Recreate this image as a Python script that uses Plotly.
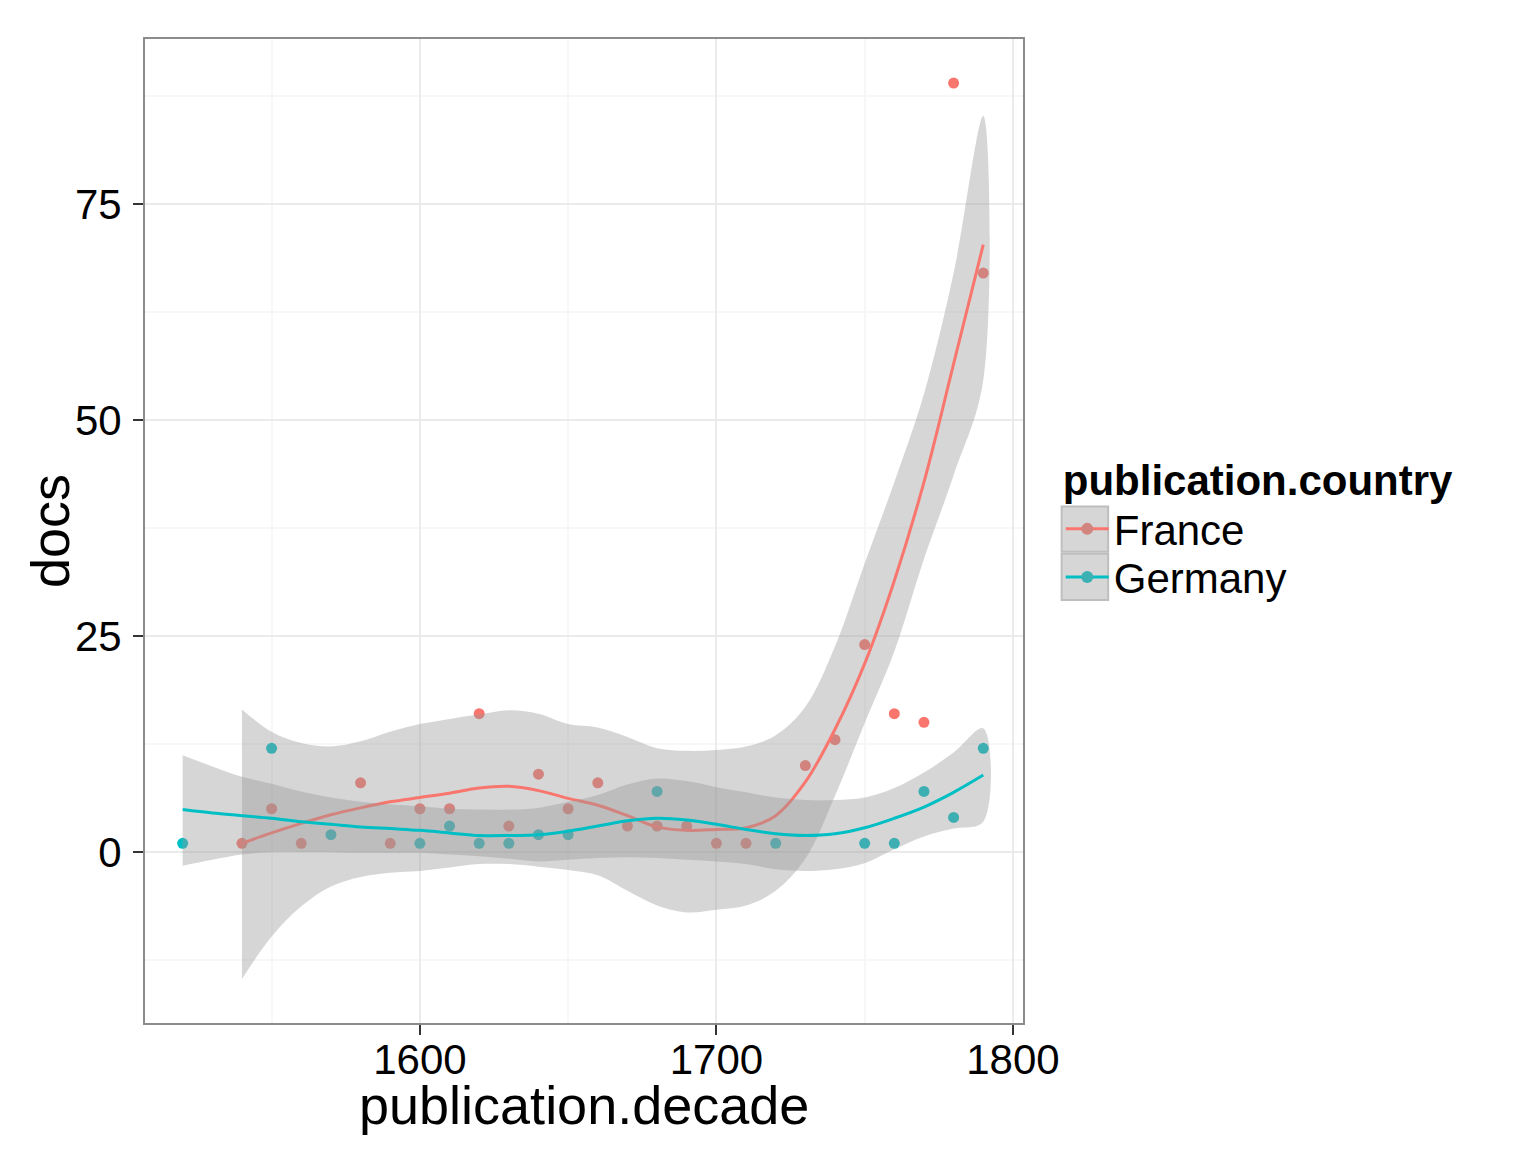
import plotly.graph_objects as go

# scatter points (docs per decade)
france_decade = [1540, 1550, 1560, 1580, 1590, 1600, 1610, 1620, 1630, 1640, 1650, 1660,
                 1670, 1680, 1690, 1700, 1710, 1730, 1740, 1750, 1760, 1770, 1780, 1790]
france_docs = [1, 5, 1, 8, 1, 5, 5, 16, 3, 9, 5, 8,
               3, 3, 3, 1, 1, 10, 13, 24, 16, 15, 89, 67]

germany_decade = [1520, 1550, 1570, 1600, 1610, 1620, 1630, 1640, 1650, 1680,
                  1720, 1750, 1760, 1770, 1780, 1790]
germany_docs = [1, 12, 2, 1, 3, 1, 1, 2, 2, 7, 1, 1, 1, 7, 4, 12]

# loess smooth (fit, lower and upper bound)
france_fit_x = [1540, 1550, 1560, 1570, 1580, 1590, 1600, 1610, 1620, 1630, 1640, 1650, 1660,
                1670, 1680, 1690, 1700, 1710, 1720, 1730, 1740, 1750, 1760, 1770, 1780, 1790]
france_fit = [1.0, 2.2, 3.3, 4.3, 5.1, 5.8, 6.3, 6.8, 7.4, 7.6, 7.1, 6.2, 5.4,
              4.2, 2.9, 2.5, 2.6, 2.8, 4.2, 8.1, 14.2, 21.8, 31.4, 42.8, 56.5, 70.3]
france_lo = [-14.7, -9.8, -6.3, -4.0, -2.9, -2.4, -2.2, -1.8, -1.4, -1.4, -1.7, -2.1, -2.7,
             -4.5, -6.2, -7.0, -6.7, -6.2, -4.5, -0.8, 6.5, 14.9, 23.2, 33.9, 43.6, 54.6]
france_hi = [16.5, 13.9, 12.6, 12.2, 12.8, 13.9, 14.8, 15.4, 15.9, 16.4, 16.0, 14.8, 14.4,
             13.3, 12.0, 11.7, 11.8, 12.2, 13.5, 16.8, 23.8, 33.4, 42.8, 53.0, 67.0, 85.2]

germany_fit_x = [1520, 1530, 1540, 1550, 1560, 1570, 1580, 1590, 1600, 1610, 1620, 1630, 1640, 1650,
                 1660, 1670, 1680, 1690, 1700, 1710, 1720, 1730, 1740, 1750, 1760, 1770, 1780, 1790]
germany_fit = [4.9, 4.5, 4.2, 3.9, 3.5, 3.2, 2.9, 2.7, 2.5, 2.2, 1.9, 1.9, 2.0, 2.4,
               3.0, 3.6, 3.9, 3.7, 3.2, 2.6, 2.1, 1.9, 2.1, 2.8, 3.9, 5.2, 6.9, 8.9]
germany_lo = [-1.6, -0.9, -0.3, 0.0, 0.0, 0.0, -0.1, -0.1, -0.1, -0.3, -0.5, -0.8, -1.1, -0.9,
              -0.7, -0.6, -0.7, -0.9, -1.1, -1.4, -2.0, -2.2, -2.0, -1.3, 0.3, 1.8, 2.7, 3.5]
germany_hi = [11.2, 9.9, 8.7, 7.9, 7.0, 6.3, 5.8, 5.5, 5.3, 5.0, 4.9, 4.9, 5.1, 5.8,
              6.6, 7.8, 8.5, 8.2, 7.5, 6.9, 6.3, 6.0, 6.0, 6.3, 7.4, 9.2, 11.5, 14.3]

RED = "#F8766D"
TEAL = "#00BFC4"
BAND = "rgba(153,153,153,0.4)"
FONT = "Liberation Sans"

fig = go.Figure()

# points first, bands drawn over them like ggplot does
fig.add_trace(go.Scatter(x=france_decade, y=france_docs, mode="markers",
                         marker=dict(color=RED, size=11), showlegend=False))
fig.add_trace(go.Scatter(x=germany_decade, y=germany_docs, mode="markers",
                         marker=dict(color=TEAL, size=11), showlegend=False))

for xs, fit, lo, hi, col in [(france_fit_x, france_fit, france_lo, france_hi, RED),
                             (germany_fit_x, germany_fit, germany_lo, germany_hi, TEAL)]:
    fig.add_trace(go.Scatter(x=xs + xs[::-1], y=hi + lo[::-1], fill="toself",
                             fillcolor=BAND, line=dict(width=0, shape="spline"),
                             mode="lines", hoverinfo="skip", showlegend=False))
    fig.add_trace(go.Scatter(x=xs, y=fit, mode="lines",
                             line=dict(color=col, width=3, shape="spline"),
                             showlegend=False))

# legend entries (line + muted dot, as in the ggplot key)
fig.add_trace(go.Scatter(x=[None], y=[None], mode="lines+markers", name="France",
                         line=dict(color=RED, width=3), legend="legend",
                         marker=dict(color="rgb(210,132,127)", size=12)))
fig.add_trace(go.Scatter(x=[None], y=[None], mode="lines+markers", name="Germany",
                         line=dict(color=TEAL, width=3), legend="legend2",
                         marker=dict(color="rgb(61,176,179)", size=12)))

# grey key boxes behind the legend symbols
for y0, y1 in [(0.479, 0.525), (0.430, 0.477)]:
    fig.add_shape(type="rect", xref="paper", yref="paper",
                  x0=1.044, x1=1.097, y0=y0, y1=y1,
                  fillcolor="#D6D6D6", line=dict(color="#BEBEBE", width=2), layer="below")

axis_common = dict(
    showline=True, mirror=True, linecolor="#8C8C8C", linewidth=2,
    ticks="outside", ticklen=10, tickwidth=2, tickcolor="#333333",
    tickfont=dict(size=42, color="black", family=FONT),
    gridcolor="#EBEBEB", gridwidth=1.5, zeroline=False,
)

fig.update_xaxes(**axis_common, range=[1507.3, 1803.4], tickvals=[1600, 1700, 1800],
                 ticklabelstandoff=-11,
                 minor=dict(tickvals=[1550, 1650, 1750], showgrid=True,
                            gridcolor="#F7F7F7", gridwidth=1.5, ticks=""))
fig.update_yaxes(**axis_common, range=[-19.8, 94.1], tickvals=[0, 25, 50, 75],
                 ticklabelstandoff=3,
                 minor=dict(tickvals=[-12.5, 12.5, 37.5, 62.5, 87.5], showgrid=True,
                            gridcolor="#F7F7F7", gridwidth=1.5, ticks=""))

# axis titles as annotations so they sit where ggplot puts them
fig.add_annotation(text="publication.decade", xref="paper", yref="paper",
                   x=0.5, y=-0.0833, xanchor="center", yanchor="middle", showarrow=False,
                   font=dict(size=54, color="black", family=FONT))
fig.add_annotation(text="docs", xref="paper", yref="paper", textangle=-90,
                   x=-0.1082, y=0.5, xanchor="center", yanchor="middle", showarrow=False,
                   font=dict(size=54, color="black", family=FONT))

legend_common = dict(
    xanchor="left", font=dict(size=42, family=FONT),
    itemwidth=43, tracegroupgap=0, bgcolor="rgba(0,0,0,0)",
)

fig.update_layout(
    width=1528, height=1144,
    margin=dict(l=137, r=513, t=31, b=129),
    paper_bgcolor="white", plot_bgcolor="white",
    font=dict(family=FONT, color="black"),
    legend=dict(**legend_common, x=1.043, y=0.592, yanchor="top",
                title=dict(text="<b>publication.country</b>",
                           font=dict(size=42, family=FONT))),
    legend2=dict(**legend_common, x=1.043, y=0.453, yanchor="middle"),
)

fig.write_html("out.html")
